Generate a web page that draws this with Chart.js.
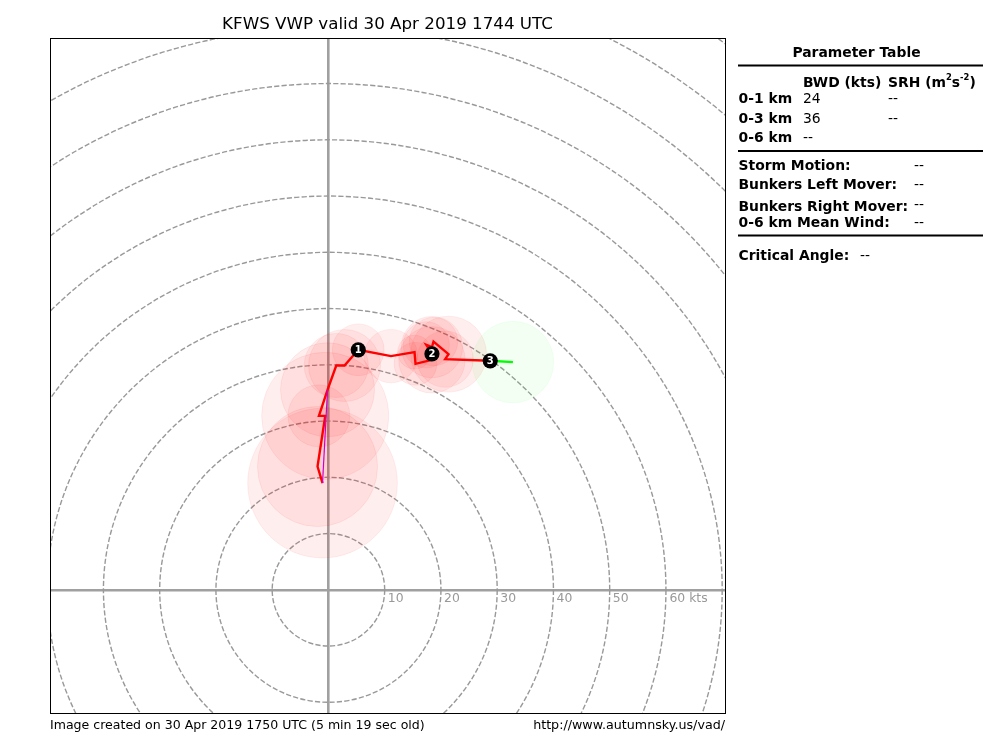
<!DOCTYPE html>
<html>
<head>
<meta charset="utf-8">
<title>KFWS VWP</title>
<style>
  html, body { margin: 0; padding: 0; background: #fff; }
  #wrap { position: relative; width: 1000px; height: 750px; }
</style>
<script src="https://cdn.jsdelivr.net/npm/chart.js@4"></script>
</head>
<body>
<div id="wrap"><canvas id="hodo" width="1000" height="750"></canvas></div>
<script>
// hodograph, u / v in kts
const hodoU = [-1.05, -1.94, -0.57, -1.69, -0.16, 1.39, 2.86, 5.3, 11.11, 15.31, 15.48, 18.4, 18.4, 17.39, 18.4, 18.68, 21.35, 20.76, 28.76];
const hodoV = [18.97, 21.92, 30.93, 30.93, 35.56, 39.88, 39.88, 42.67, 41.55, 42.26, 40.18, 40.89, 41.96, 43.56, 43.15, 44.14, 41.9, 41.01, 40.71];

// uncertainty circles (kts)
const circleU = [-1.05, -1.94, -0.57, -1.69, -0.16, 1.39, 2.86, 5.3, 11.11, 15.31, 15.48, 18.4, 17.39, 18.4, 18.68, 21.35, 20.76];
const circleV = [18.97, 21.92, 30.93, 30.93, 35.56, 39.88, 39.88, 42.67, 41.55, 42.26, 40.18, 40.89, 43.56, 43.15, 44.14, 41.9, 41.01];
const circleR = [13.3, 10.67, 11.3, 5.5, 8.36, 5.7, 6.4, 4.6, 4.75, 3.0, 3.8, 5.9, 4.1, 5.45, 4.3, 6.75, 5.0];

// last segment, green
const greenU = [28.76, 32.8];
const greenV = [40.71, 40.48];
const greenR = [7.25];

// surface line, magenta
const magentaU = [-1.05, -0.16];
const magentaV = [18.97, 35.56];

// height markers
const markerLabels = ['1', '2', '3'];
const markerU = [5.3, 18.4, 28.76];
const markerV = [42.67, 41.96, 40.71];

const ringValues = [10, 20, 30, 40, 50, 60, 70, 80, 90, 100, 110, 120];
const ringLabels = ['10', '20', '30', '40', '50', '60 kts'];

const titleText = 'KFWS VWP valid 30 Apr 2019 1744 UTC';
const footerLeft = 'Image created on 30 Apr 2019 1750 UTC (5 min 19 sec old)';
const footerRight = 'http://www.autumnsky.us/vad/';

const FONT = '"DejaVu Sans"';

function toPoints(us, vs) {
    return us.map((u, i) => ({ x: u, y: vs[i] }));
}

// pixels per knot, so radii stay tied to the axis
function pxPerKt(chart) {
    const x = chart.scales.x;
    return Math.abs(x.getPixelForValue(1) - x.getPixelForValue(0));
}

function scaledRadius(radii) {
    return ctx => radii[ctx.dataIndex] * pxPerKt(ctx.chart);
}

function text(ctx, str, x, y, font, color, align) {
    ctx.font = font;
    ctx.fillStyle = color || '#000';
    ctx.textAlign = align || 'left';
    ctx.textBaseline = 'middle';
    ctx.fillText(str, x, y);
}

function hline(ctx, x0, x1, y) {
    ctx.strokeStyle = '#000';
    ctx.lineWidth = 2;
    ctx.beginPath();
    ctx.moveTo(x0, y);
    ctx.lineTo(x1, y);
    ctx.stroke();
}

// SRH header has raised exponents, so it goes piece by piece
function srhHeader(ctx, x, y) {
    const big = 'bold 13.9px ' + FONT;
    const small = 'bold 8.4px ' + FONT;
    [['SRH (m', big, 0], ['2', small, -5.5], ['s', big, 0], ['-2', small, -5.5], [')', big, 0]].forEach(p => {
        text(ctx, p[0], x, y + p[2], p[1]);
        x += ctx.measureText(p[0]).width;
    });
}

// dashed range rings under the data
const ringsPlugin = {
    id: 'rings',
    beforeDatasetsDraw(chart) {
        const { ctx, chartArea: a, scales } = chart;
        const cx = scales.x.getPixelForValue(0);
        const cy = scales.y.getPixelForValue(0);
        const k = pxPerKt(chart);
        ctx.save();
        ctx.beginPath();
        ctx.rect(a.left, a.top, a.right - a.left, a.bottom - a.top);
        ctx.clip();
        ctx.strokeStyle = '#999999';
        ctx.lineWidth = 1.4;
        ctx.setLineDash([5.2, 2.2]);
        ringValues.forEach(v => {
            ctx.beginPath();
            ctx.arc(cx, cy, v * k, 0, Math.PI * 2);
            ctx.stroke();
        });
        ctx.restore();
    }
};

// frame, marker numbers, ring labels, table and captions
const textPlugin = {
    id: 'texts',
    afterDraw(chart) {
        const { ctx, chartArea: a, scales } = chart;
        ctx.save();

        ctx.strokeStyle = '#000';
        ctx.lineWidth = 1;
        ctx.strokeRect(Math.round(a.left) + 0.5, Math.round(a.top) + 0.5, Math.round(a.right - a.left), Math.round(a.bottom - a.top));

        ringLabels.forEach((lab, i) => {
            const xp = scales.x.getPixelForValue(ringValues[i]);
            const yp = scales.y.getPixelForValue(0);
            text(ctx, lab, xp + (i === 5 ? 3.5 : 11), yp + 9, '12.4px ' + FONT, '#999999', i === 5 ? 'left' : 'center');
        });

        markerLabels.forEach((lab, i) => {
            text(ctx, lab, scales.x.getPixelForValue(markerU[i]), scales.y.getPixelForValue(markerV[i]) + 0.5, 'bold 10px ' + FONT, '#fff', 'center');
        });

        text(ctx, titleText, 387.5, 25, '16.7px ' + FONT, '#000', 'center');
        text(ctx, footerLeft, 50, 725.5, '12.55px ' + FONT, '#000', 'left');
        text(ctx, footerRight, 725, 725.5, '12.7px ' + FONT, '#000', 'right');

        const bold = 'bold 13.9px ' + FONT;
        const plain = '13.9px ' + FONT;
        text(ctx, 'Parameter Table', 856.5, 53, bold, '#000', 'center');
        hline(ctx, 738, 983, 65.5);
        text(ctx, 'BWD (kts)', 803, 83, bold);
        srhHeader(ctx, 888, 83);
        text(ctx, '0-1 km', 738.5, 99.5, bold);
        text(ctx, '24', 803, 99.5, plain);
        text(ctx, '--', 888, 99.5, plain);
        text(ctx, '0-3 km', 738.5, 119, bold);
        text(ctx, '36', 803, 119, plain);
        text(ctx, '--', 888, 119, plain);
        text(ctx, '0-6 km', 738.5, 138, bold);
        text(ctx, '--', 803, 138, plain);
        hline(ctx, 738, 983, 151);
        text(ctx, 'Storm Motion:', 738.5, 166.5, bold);
        text(ctx, '--', 914, 166.5, plain);
        text(ctx, 'Bunkers Left Mover:', 738.5, 185, bold);
        text(ctx, '--', 914, 185, plain);
        text(ctx, 'Bunkers Right Mover:', 738.5, 207, bold);
        text(ctx, '--', 914, 205, plain);
        text(ctx, '0-6 km Mean Wind:', 738.5, 223, bold);
        text(ctx, '--', 914, 223, plain);
        hline(ctx, 738, 983, 235.5);
        text(ctx, 'Critical Angle:', 738.5, 256.5, bold);
        text(ctx, '--', 860, 256.5, plain);

        ctx.restore();
    }
};

function axisOnlyAtZero(axis) {
    axis.ticks = [{ value: 0 }];
}

const axisBase = {
    type: 'linear',
    afterBuildTicks: axisOnlyAtZero,
    ticks: { display: false },
    grid: { color: '#a0a0a0', lineWidth: 2.6, drawTicks: false },
    border: { display: false }
};

new Chart(document.getElementById('hodo'), {
    type: 'scatter',
    data: {
        datasets: [
            {
                label: 'circles',
                data: toPoints(circleU, circleV),
                showLine: false,
                order: 5,
                pointRadius: scaledRadius(circleR),
                pointHoverRadius: scaledRadius(circleR),
                pointBackgroundColor: 'rgba(255,0,0,0.065)',
                pointBorderColor: 'rgba(255,0,0,0.065)',
                pointBorderWidth: 1
            },
            {
                label: 'green circle',
                data: toPoints(greenU.slice(1), greenV.slice(1)),
                showLine: false,
                order: 4,
                pointRadius: scaledRadius(greenR),
                pointHoverRadius: scaledRadius(greenR),
                pointBackgroundColor: 'rgba(0,255,0,0.05)',
                pointBorderColor: 'rgba(0,255,0,0.05)',
                pointBorderWidth: 1
            },
            {
                label: 'green',
                data: toPoints(greenU, greenV),
                showLine: true,
                order: 3,
                borderColor: '#00ff00',
                borderWidth: 2.4,
                pointRadius: 0,
                tension: 0
            },
            {
                label: 'hodograph',
                data: toPoints(hodoU, hodoV),
                showLine: true,
                order: 2,
                borderColor: '#ff0000',
                borderWidth: 2.4,
                pointRadius: 0,
                tension: 0
            },
            {
                label: 'surface',
                data: toPoints(magentaU, magentaV),
                showLine: true,
                order: 1,
                borderColor: '#cc00cc',
                borderWidth: 1.2,
                pointRadius: 0,
                tension: 0
            },
            {
                label: 'markers',
                data: toPoints(markerU, markerV),
                showLine: false,
                order: 0,
                pointRadius: 7.6,
                pointBackgroundColor: '#000',
                pointBorderColor: '#000',
                pointBorderWidth: 0
            }
        ]
    },
    options: {
        responsive: false,
        animation: false,
        events: [],
        layout: { padding: { left: 50, right: 275, top: 38, bottom: 37 } },
        plugins: { legend: { display: false }, title: { display: false }, tooltip: { enabled: false } },
        scales: {
            x: { ...axisBase, min: -49.5, max: 70.5 },
            y: { ...axisBase, min: -21.9, max: 98.1 }
        }
    },
    plugins: [ringsPlugin, textPlugin]
});
</script>
</body>
</html>
